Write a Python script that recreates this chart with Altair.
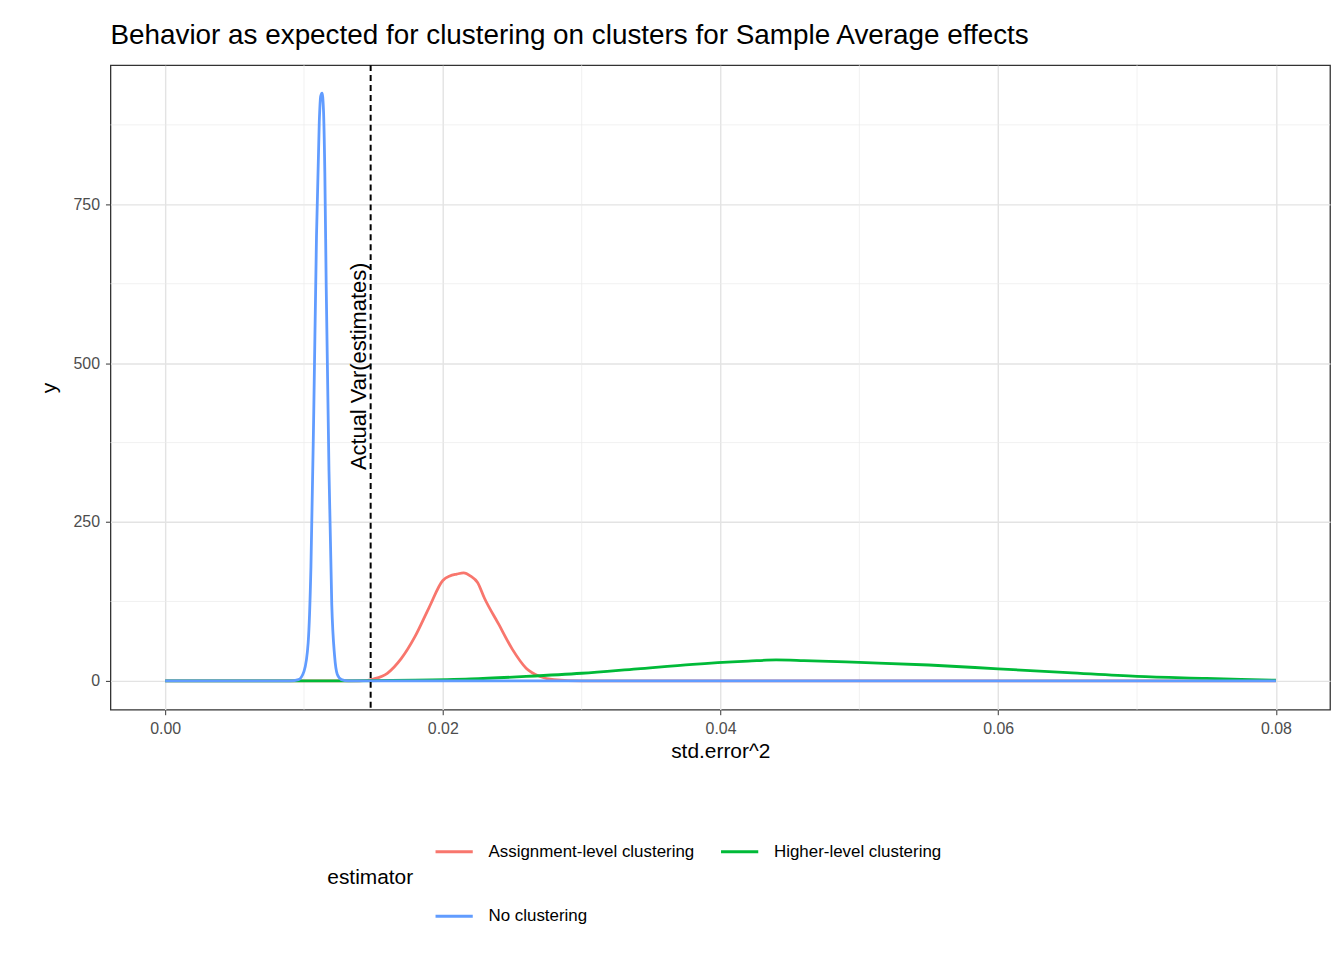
import pandas as pd
import altair as alt

# density curves
blue_x = [0.0, 0.0090, 0.0096, 0.0100, 0.0103, 0.0105, 0.0107, 0.0109, 0.0111, 0.0112, 0.0113, 0.0114, 0.0115, 0.0116, 0.0118, 0.0120, 0.0122, 0.0124, 0.0127, 0.0132, 0.08]
blue_y = [0, 0, 2, 15, 60, 180, 420, 700, 880, 920, 925, 900, 800, 620, 330, 120, 40, 10, 2, 0, 0]
red_x = [0.0, 0.0140, 0.0150, 0.0160, 0.0170, 0.0180, 0.0190, 0.0200, 0.0205, 0.0210, 0.0215, 0.0220, 0.0225, 0.0230, 0.0240, 0.0250, 0.0260, 0.0270, 0.0280, 0.0300, 0.08]
red_y = [0, 0, 3, 12, 35, 70, 115, 158, 165, 168, 170, 165, 155, 130, 90, 50, 20, 7, 2, 0, 0]
green_x = [0.0, 0.0130, 0.0180, 0.0220, 0.0260, 0.0300, 0.0340, 0.0380, 0.0420, 0.0440, 0.0460, 0.0500, 0.0550, 0.0600, 0.0650, 0.0700, 0.0750, 0.0800]
green_y = [0, 0, 1, 3, 7, 12, 19, 26, 31, 33, 32, 29, 25, 19, 13, 7, 4, 1]

vline_x = 0.0148
x_major = [0.0, 0.02, 0.04, 0.06, 0.08]
x_minor = [0.01, 0.03, 0.05, 0.07]
y_major = [0, 250, 500, 750]
y_minor = [125, 375, 625, 875]

names = ["Assignment-level clustering", "Higher-level clustering", "No clustering"]
colors = ["#F8766D", "#00BA38", "#619CFF"]

df = pd.concat([
    pd.DataFrame({"x": red_x, "y": red_y, "estimator": names[0], "o": range(len(red_x))}),
    pd.DataFrame({"x": green_x, "y": green_y, "estimator": names[1], "o": range(len(green_x))}),
    pd.DataFrame({"x": blue_x, "y": blue_y, "estimator": names[2], "o": range(len(blue_x))}),
])

xs = alt.Scale(domain=[-0.00394, 0.0839], nice=False, zero=False)
ys = alt.Scale(domain=[-45.4, 969], nice=False, zero=False)
font = "Liberation Sans"

minor_x = alt.Chart(pd.DataFrame({"v": x_minor})).mark_rule(color="#EBEBEB", strokeWidth=0.7).encode(
    x=alt.X("v:Q", scale=xs))
minor_y = alt.Chart(pd.DataFrame({"v": y_minor})).mark_rule(color="#EBEBEB", strokeWidth=0.7).encode(
    y=alt.Y("v:Q", scale=ys))

lines = alt.Chart(df).mark_line(strokeWidth=2.8, interpolate="monotone").encode(
    x=alt.X("x:Q", scale=xs, title="std.error^2",
            axis=alt.Axis(values=x_major, format=".2f", grid=True, gridColor="#E3E3E3", gridWidth=1.4)),
    y=alt.Y("y:Q", scale=ys, title="y",
            axis=alt.Axis(values=y_major, grid=True, gridColor="#E3E3E3", gridWidth=1.4, titlePadding=14)),
    color=alt.Color("estimator:N", scale=alt.Scale(domain=names, range=colors),
                    legend=alt.Legend(orient="none", legendX=218, legendY=770,
                                      direction="horizontal", columns=2,
                                      titleOrient="left", titleAnchor="middle",
                                      symbolType="stroke", symbolStrokeWidth=3,
                                      symbolSize=1400, labelLimit=400,
                                      labelFontSize=17, titleFontSize=21,
                                      titleFontWeight="normal", titlePadding=20, rowPadding=36,
                                      columnPadding=20, labelOffset=14,
                                      labelFont=font, titleFont=font)),
    order="o:Q",
)

vline = alt.Chart(pd.DataFrame({"v": [vline_x]})).mark_rule(
    color="black", strokeDash=[6, 4], strokeWidth=2).encode(x=alt.X("v:Q", scale=xs))
label = alt.Chart(pd.DataFrame({"v": [vline_x], "y": [495], "t": ["Actual Var(estimates)"]})).mark_text(
    angle=270, fontSize=22, font=font, baseline="bottom").encode(
    x=alt.X("v:Q", scale=xs), y=alt.Y("y:Q", scale=ys), text="t:N")

chart = (minor_x + minor_y + lines + vline + label).properties(
    width=1226, height=648,
    padding={"left": 30, "top": 12, "right": 5, "bottom": 5},
    title=alt.TitleParams("Behavior as expected for clustering on clusters for Sample Average effects",
                          anchor="start", frame="group", fontSize=28, font=font,
                          fontWeight="normal", offset=14),
).configure_view(stroke="#333333", strokeWidth=1.3).configure_axis(
    labelFontSize=16, titleFontSize=21, labelFont=font, titleFont=font,
    labelColor="#4D4D4D", titleFontWeight="normal", tickColor="#333333",
    domain=False, labelPadding=6,
)

chart.save("out.html", embed_options={"renderer": "svg", "actions": False})
